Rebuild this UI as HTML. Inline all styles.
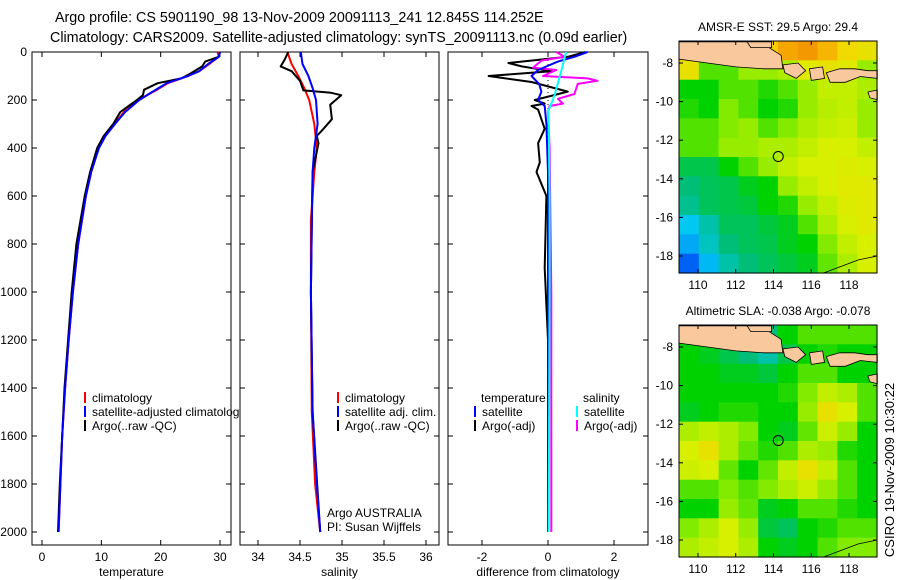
<!DOCTYPE html>
<html><head><meta charset="utf-8">
<style>
html,body{margin:0;padding:0;background:#fff;}
svg{display:block;font-family:"Liberation Sans",sans-serif;}
text{font-size:12px;fill:#000;}
</style></head>
<body>
<svg id="fig" width="900" height="580" viewBox="0 0 900 580" xmlns="http://www.w3.org/2000/svg">
<text x="55" y="22" style="font-size:14.3px">Argo profile: CS 5901190_98 13-Nov-2009 20091113_241 12.845S 114.252E</text>
<text x="50" y="42" style="font-size:14.3px">Climatology: CARS2009. Satellite-adjusted climatology: synTS_20091113.nc (0.09d earlier)</text>
<g id="g1"></g>
<g id="g2"></g>
<g id="g3"></g>
<g id="m1"></g>
<g id="m2"></g>
<text transform="translate(894,470) rotate(-90)" text-anchor="middle" style="font-size:13px">CSIRO 19-Nov-2009 10:30:22</text>
</svg>
<script>
// ---- data ----
const depthTicks = [0,200,400,600,800,1000,1200,1400,1600,1800,2000];
const tempTicks = [0,10,20,30];
const salTicks = [34,34.5,35,35.5,36];
const diffTicks = [-2,0,2];
const tempDepth = [0,20,50,80,100,130,160,200,250,300,350,400,500,600,800,1000,1200,1400,1600,1800,2000];
const tempClim  = [29.6,29.8,28.2,26.5,24.6,21.2,19.2,16.2,13.8,12.2,10.6,9.5,8.3,7.4,6.1,5.2,4.5,3.9,3.4,3.1,2.8];
const tempSat   = [30.0,29.8,28.0,26.5,24.6,21.0,19.0,16.4,14.0,12.3,10.7,9.6,8.3,7.4,6.1,5.2,4.5,3.9,3.4,3.1,2.8];
const argoTDepth = [0,20,40,60,90,110,130,157,180,200,250,300,350,400,500,600,800,1000,1200,1400,1600,1800,2000];
const argoTemp   = [30.0,29.8,27.5,27.0,25.0,23.5,19.5,17.2,17.0,16.0,13.2,12.0,10.4,9.3,8.1,7.2,5.8,5.0,4.4,3.8,3.4,3.0,2.7];
const salDepth = [0,50,100,150,200,300,400,500,700,1000,1500,1800,2000];
const salClim  = [34.35,34.4,34.48,34.55,34.61,34.67,34.70,34.67,34.63,34.63,34.64,34.68,34.74];
const salSat   = [34.51,34.53,34.6,34.65,34.69,34.71,34.67,34.65,34.64,34.63,34.65,34.7,34.74];
const argoSDepth = [0,30,60,80,120,160,170,180,220,280,320,350,380,500,1000,1500,2000];
const argoSal    = [34.36,34.32,34.27,34.4,34.5,34.54,34.87,34.99,34.86,34.88,34.78,34.7,34.72,34.65,34.63,34.65,34.74];
const dTDepth  = [0,20,46,60,80,100,125,165,200,215,225,240,280,320,380,460,500,600,900,1200,2000];
const dTArgo   = [1.14,0.6,-1.2,-0.8,0.1,-1.8,-0.5,0.6,-0.4,-0.1,-0.5,-0.3,-0.2,-0.1,-0.3,-0.25,-0.35,-0.05,-0.1,0,0];
const dTSatD   = [0,20,40,75,100,133,165,200,225,300,500,1000,2000];
const dTSat    = [1.2,0.8,0.3,-0.3,-0.5,-0.27,-0.2,-0.3,-0.1,-0.05,0,0,0];
const dSSatD   = [0,80,130,180,250,300,600,1000,2000];
const dSSat    = [0.55,0.4,0.3,0.2,0.0,0.02,0.05,0.05,0.02];
const dSArgoD  = [0,20,36,65,75,100,110,120,133,175,195,215,225,250,400,1000,2000];
const dSArgo   = [0.25,0.5,-0.2,-0.45,0.25,-0.15,1.2,1.5,0.9,0.8,0.3,0.45,0.05,0.0,0.05,0.1,0.1];
const lonTicks = [110,112,114,116,118];
const latTicks = [-8,-10,-12,-14,-16,-18];
const sstGrid = [
[0.80,0.80,0.80,0.80,0.75,0.80,0.82,0.78,0.72,0.70],
[0.70,0.55,0.55,0.60,0.60,0.62,0.68,0.70,0.68,0.60],
[0.50,0.50,0.55,0.55,0.52,0.55,0.60,0.64,0.64,0.62],
[0.52,0.50,0.58,0.55,0.50,0.52,0.60,0.63,0.64,0.60],
[0.55,0.55,0.58,0.60,0.55,0.58,0.62,0.64,0.65,0.60],
[0.55,0.55,0.60,0.60,0.62,0.62,0.64,0.66,0.66,0.64],
[0.45,0.45,0.50,0.55,0.60,0.64,0.66,0.66,0.67,0.66],
[0.42,0.44,0.45,0.48,0.50,0.60,0.64,0.66,0.68,0.68],
[0.40,0.44,0.45,0.46,0.50,0.52,0.60,0.64,0.67,0.68],
[0.32,0.38,0.44,0.44,0.46,0.48,0.55,0.62,0.66,0.68],
[0.28,0.36,0.42,0.44,0.45,0.48,0.50,0.58,0.64,0.66],
[0.18,0.30,0.38,0.42,0.44,0.46,0.48,0.56,0.62,0.66]];
const slaGrid = [
[0.50,0.45,0.45,0.45,0.42,0.50,0.55,0.55,0.55,0.55],
[0.50,0.48,0.45,0.42,0.38,0.45,0.50,0.52,0.50,0.50],
[0.50,0.50,0.48,0.48,0.46,0.50,0.55,0.55,0.50,0.50],
[0.50,0.50,0.50,0.50,0.50,0.52,0.58,0.64,0.62,0.55],
[0.48,0.50,0.52,0.52,0.50,0.50,0.60,0.70,0.66,0.55],
[0.62,0.64,0.62,0.58,0.50,0.48,0.56,0.65,0.60,0.50],
[0.66,0.70,0.62,0.56,0.52,0.55,0.62,0.60,0.52,0.50],
[0.65,0.66,0.56,0.50,0.56,0.64,0.70,0.64,0.55,0.50],
[0.55,0.55,0.58,0.55,0.58,0.62,0.65,0.60,0.55,0.50],
[0.50,0.50,0.60,0.56,0.48,0.50,0.55,0.55,0.52,0.50],
[0.58,0.62,0.66,0.60,0.46,0.44,0.50,0.52,0.55,0.55],
[0.62,0.64,0.66,0.62,0.50,0.48,0.50,0.55,0.58,0.58]];
const argoLon = 114.252, argoLat = -12.845;

// ---- helpers ----
const NS="http://www.w3.org/2000/svg";
function mk(tag, attrs, parent){const e=document.createElementNS(NS,tag);for(const k in attrs)e.setAttribute(k,attrs[k]);parent.appendChild(e);return e;}
const PT=52, PB=545;
function yD(d){return PT + d*(532-PT)/2000;}

function panel(g, x0, x1, xScale, ticks, label, name){
  mk('rect',{x:x0,y:PT,width:x1-x0,height:PB-PT,fill:'#fff',stroke:'#000','stroke-width':1},g);
  ticks.forEach(t=>{const x=xScale(t);
    mk('line',{x1:x,x2:x,y1:PB,y2:PB-5,stroke:'#000'},g);
    mk('line',{x1:x,x2:x,y1:PT,y2:PT+5,stroke:'#000'},g);
    const tx=mk('text',{x:x,y:PB+16,'text-anchor':'middle'},g);tx.textContent=String(t);
    
    
  });
  depthTicks.forEach(d=>{const y=yD(d);
    mk('line',{x1:x0,x2:x0+5,y1:y,y2:y,stroke:'#000'},g);
    mk('line',{x1:x1,x2:x1-5,y1:y,y2:y,stroke:'#000'},g);
  });
  const lt=mk('text',{x:(x0+x1)/2,y:PB+31,'text-anchor':'middle'},g);lt.textContent=label;
  
  
}
function line(g, xs, ds, xScale, color, name, w){
  const p=xs.map((v,i)=>(i?'L':'M')+xScale(v).toFixed(1)+','+yD(ds[i]).toFixed(1)).join('');
  const e=mk('path',{d:p,fill:'none',stroke:color,'stroke-width':w||2,'stroke-linejoin':'round'},g);
  
  
}
function legend(g, x, y, items){
  items.forEach((it,i)=>{
    const yy=y+i*14;
    mk('rect',{x:x,y:yy-10,width:2,height:11,fill:it[0]},g);
    const t=mk('text',{x:x+8,y:yy},g);t.textContent=it[1];
    
    
  });
}

// temperature panel
const g1=document.getElementById('g1');
const xT=v=>42+v*(220-42)/30;
panel(g1,32,231,xT,tempTicks,'temperature','temperature');
depthTicks.forEach(d=>{const t=mk('text',{x:27,y:yD(d)+4,'text-anchor':'end'},g1);t.textContent=String(d);
  
  });
line(g1,tempClim,tempDepth,xT,'#f00','temp-climatology-line');
line(g1,argoTemp,argoTDepth,xT,'#000','temp-argo-line');
line(g1,tempSat,tempDepth,xT,'#00f','temp-satellite-line');
legend(g1,84,402,[['#f00','climatology'],['#00f','satellite-adjusted climatology'],['#000','Argo(..raw -QC)']]);

// salinity panel
const g2=document.getElementById('g2');
const xS=v=>258+(v-34)*(426-258)/2;
panel(g2,240,439,xS,salTicks,'salinity','salinity');
line(g2,salClim,salDepth,xS,'#f00','sal-climatology-line');
line(g2,argoSal,argoSDepth,xS,'#000','sal-argo-line');
line(g2,salSat,salDepth,xS,'#00f','sal-satellite-line');
legend(g2,337,402,[['#f00','climatology'],['#00f','satellite adj. clim.'],['#000','Argo(..raw -QC)']]);
let t=mk('text',{x:327,y:517},g2);t.textContent='Argo AUSTRALIA';
t=mk('text',{x:327,y:531},g2);t.textContent='PI: Susan Wijffels';

// difference panel
const g3=document.getElementById('g3');
const xDf=v=>548+v*33;
panel(g3,448,648,xDf,diffTicks,'difference from climatology','difference');
mk('line',{x1:xDf(0),x2:xDf(0),y1:60,y2:160,stroke:'#000','stroke-dasharray':'1,3'},g3);
line(g3,dTArgo,dTDepth,xDf,'#000','diff-temp-argo-line');
line(g3,dSArgo,dSArgoD,xDf,'#f0f','diff-sal-argo-line');
line(g3,dTSat,dTSatD,xDf,'#00f','diff-temp-satellite-line');
line(g3,dSSat,dSSatD,xDf,'#0ff','diff-sal-satellite-line');
t=mk('text',{x:481,y:402},g3);t.textContent='temperature';
t=mk('text',{x:583,y:402},g3);t.textContent='salinity';
legend(g3,474,416,[['#00f','satellite'],['#000','Argo(-adj)']]);
legend(g3,576,416,[['#0ff','satellite'],['#f0f','Argo(-adj)']]);

// colormap
const stops=[[0,[0,0,200]],[0.22,[0,120,255]],[0.32,[0,200,240]],[0.42,[0,190,120]],[0.5,[0,210,0]],[0.58,[130,235,0]],[0.66,[215,240,0]],[0.74,[250,210,0]],[0.85,[240,130,0]],[1,[190,20,0]]];
function cmap(v){for(let i=1;i<stops.length;i++){if(v<=stops[i][0]){const a=stops[i-1],b=stops[i],f=(v-a[0])/(b[0]-a[0]);
  return 'rgb('+a[1].map((c,k)=>Math.round(c+(b[1][k]-c)*f)).join(',')+')';}}return 'rgb(190,20,0)';}

function map(id, top, grid, title, name){
  const g=document.getElementById(id);
  const L=679,R=877,B=top+232;
  const lx=v=>698+(v-110)*(849-698)/8;
  const ly=v=>top+22+(-8-v)*193/10;
  const tt=mk('text',{x:778,y:top-10,'text-anchor':'middle'},g);tt.textContent=title;
  
  
  const nr=grid.length,nc=grid[0].length;
  grid.forEach((row,r)=>row.forEach((v,c)=>{
    const x0=L+(R-L)*c/nc,x1=L+(R-L)*(c+1)/nc,y0=top+(B-top)*r/nr,y1=top+(B-top)*(r+1)/nr;
    const e=mk('rect',{x:x0.toFixed(1),y:y0.toFixed(1),width:(x1-x0+0.6).toFixed(1),height:(y1-y0+0.6).toFixed(1),fill:cmap(v)},g);
    
    
  }));
  const poly=(pts)=>pts.map(p=>lx(p[0]).toFixed(1)+','+ly(p[1]).toFixed(1)).join(' ');
  const lands=[
    [[109,-6.9],[113.2,-6.9],[113.6,-7.1],[114.4,-7.6],[114.5,-8.3],[113.5,-8.3],[112,-8.2],[110.5,-8.0],[109,-7.8]],
    [[112.6,-6.9],[113.9,-6.9],[113.9,-7.2],[112.8,-7.2]],
    [[114.5,-8.1],[115.3,-8.0],[115.7,-8.4],[115.2,-8.8],[114.6,-8.5]],
    [[115.9,-8.3],[116.6,-8.2],[116.7,-8.8],[116.0,-8.9]],
    [[116.8,-8.5],[117.5,-8.3],[118.3,-8.3],[119,-8.4],[119.5,-8.4],[119.5,-8.8],[118.6,-8.7],[117.8,-9.0],[117,-9.0]],
    [[119.0,-9.5],[119.5,-9.4],[119.5,-9.9],[119.1,-9.8]]];
  lands.forEach(p=>{const e=mk('polygon',{points:poly(p),fill:'#f9c89c',stroke:'#000','stroke-width':0.8},g);
    
    });
  mk('polyline',{points:poly([[116.6,-18.9],[118.5,-18.2],[119.5,-18.0]]),fill:'none',stroke:'#000','stroke-width':0.8},g);
  mk('rect',{x:L,y:top,width:R-L,height:B-top,fill:'none',stroke:'#000'},g);
  lonTicks.forEach(v=>{const x=lx(v);mk('line',{x1:x,x2:x,y1:B,y2:B-4,stroke:'#000'},g);mk('line',{x1:x,x2:x,y1:top,y2:top+4,stroke:'#000'},g);
    const e=mk('text',{x:x,y:B+16,'text-anchor':'middle'},g);e.textContent=String(v);
    
    });
  latTicks.forEach(v=>{const y=ly(v);mk('line',{x1:L,x2:L+4,y1:y,y2:y,stroke:'#000'},g);mk('line',{x1:R,x2:R-4,y1:y,y2:y,stroke:'#000'},g);
    const e=mk('text',{x:L-6,y:y+4,'text-anchor':'end'},g);e.textContent=String(v);
    
    });
  const c=mk('circle',{cx:lx(argoLon),cy:ly(argoLat),r:5,fill:'none',stroke:'#000','stroke-width':1},g);
  
  
}
map('m1',41,sstGrid,'AMSR-E SST: 29.5 Argo: 29.4','sst');
map('m2',325,slaGrid,'Altimetric SLA: -0.038 Argo: -0.078','sla');
</script>
</body></html>
